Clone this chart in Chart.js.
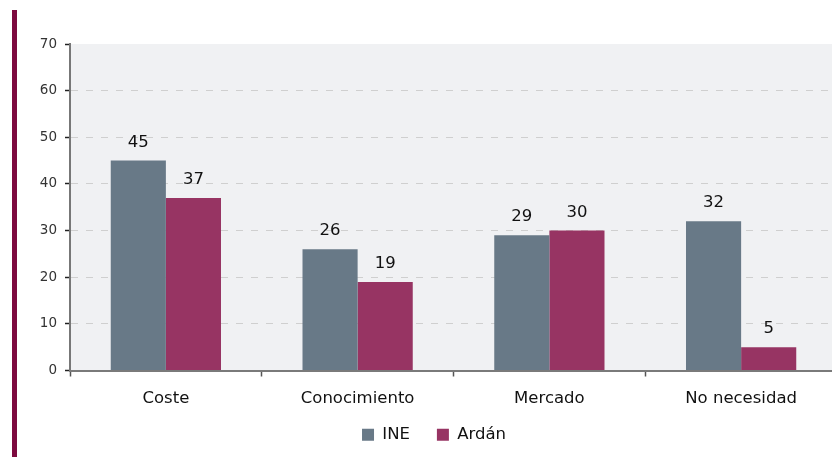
<!DOCTYPE html>
<html>
<head>
<meta charset="utf-8">
<script src="https://cdn.jsdelivr.net/npm/chart.js@4/dist/chart.umd.min.js"></script>
<style>
  html, body { margin: 0; padding: 0; background: #fff; overflow: hidden; }
  #wrap { position: absolute; left: 0; top: 0; width: 868px; height: 464px; }
  #side { position: absolute; left: 12px; top: 10px; width: 5px; height: 447px; background: #7d0a3f; }
</style>
</head>
<body>
<div id="side"></div>
<div id="wrap"><canvas id="chart"></canvas></div>
<script>
// Motivos: INE vs Ardán (%)
const categories = ['Coste', 'Conocimiento', 'Mercado', 'No necesidad'];
const ineValues = [45, 26, 29, 32];
const ardanValues = [37, 19, 30, 5];
const seriesNames = ['INE', 'Ardán'];

const FONT = "'DejaVu Sans', sans-serif";

// light grey fill behind the plot
const plotBackground = {
    id: 'plotBackground',
    beforeDraw(chart) {
        const { ctx, chartArea: a } = chart;
        ctx.save();
        ctx.fillStyle = '#f0f1f3';
        ctx.fillRect(a.left, a.top, a.right - a.left, a.bottom - a.top);
        ctx.restore();
    }
};

// pull the legend up a bit closer to the axis labels
const legendLift = {
    id: 'legendLift',
    afterLayout(chart, args, opts) {
        const lg = chart.legend;
        if (!lg) return;
        lg.top -= opts.by;
        lg.bottom -= opts.by;
    }
};

// numbers above each bar
const barValues = {
    id: 'barValues',
    afterDatasetsDraw(chart) {
        const ctx = chart.ctx;
        ctx.save();
        ctx.font = '16.5px ' + FONT;
        ctx.fillStyle = '#111';
        ctx.textAlign = 'center';
        ctx.textBaseline = 'alphabetic';
        chart.data.datasets.forEach((ds, i) => {
            chart.getDatasetMeta(i).data.forEach((bar, j) => {
                ctx.fillText(String(ds.data[j]), bar.x, bar.y - 14);
            });
        });
        ctx.restore();
    }
};

new Chart(document.getElementById('chart'), {
    type: 'bar',
    data: {
        labels: categories,
        datasets: [
            { label: seriesNames[0], data: ineValues, backgroundColor: '#687987' },
            { label: seriesNames[1], data: ardanValues, backgroundColor: '#973463' }
        ]
    },
    options: {
        responsive: true,
        maintainAspectRatio: false,
        animation: false,
        categoryPercentage: 0.575,
        barPercentage: 1,
        layout: { padding: { top: 44, left: 0, right: 0, bottom: 0 } },
        plugins: {
            tooltip: { enabled: false },
            legendLift: { by: 11 },
            legend: {
                position: 'bottom',
                labels: {
                    boxWidth: 12,
                    boxHeight: 12,
                    padding: 27,
                    color: '#111',
                    font: { family: FONT, size: 16.5 }
                }
            }
        },
        scales: {
            x: {
                grid: { drawOnChartArea: false, drawTicks: true, tickLength: 6, tickColor: '#555', tickWidth: 1.5, offset: true },
                border: { color: '#7a7a7a', width: 2, z: 1 },
                ticks: { color: '#111', padding: 12, font: { family: FONT, size: 16.5 } },
                afterFit(s) { s.height = 40; }
            },
            y: {
                min: 0,
                max: 70,
                ticks: { stepSize: 10, color: '#333', padding: 8, font: { family: FONT, size: 13.5 } },
                grid: {
                    color: c => (c.tick && (c.tick.value === 0 || c.tick.value === 70)) ? 'rgba(0,0,0,0)' : '#cfcfcf',
                    lineWidth: 1,
                    tickColor: '#222',
                    tickLength: 5,
                    tickWidth: 1.5
                },
                border: { color: '#777', width: 2, dash: [7, 8] },
                afterFit(s) { s.width = 70; }
            },
            yr: {
                position: 'right',
                display: true,
                ticks: { display: false },
                grid: { display: false },
                border: { display: false },
                afterFit(s) { s.width = 31; }
            }
        }
    },
    plugins: [plotBackground, legendLift, barValues]
});
</script>
</body>
</html>
